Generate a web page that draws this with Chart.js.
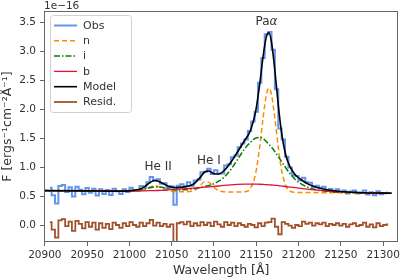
<!DOCTYPE html>
<html>
<head>
<meta charset="utf-8">
<script src="https://cdn.jsdelivr.net/npm/chart.js@4.4.1/dist/chart.umd.min.js"></script>
<style>
  html, body { margin: 0; padding: 0; background: #fff; }
</style>
</head>
<body>
<canvas id="chart" width="403" height="280"></canvas>
<script>
// fit components, sampled on a non-uniform wavelength grid (flux in 1e-16)
const lamFit = [20900, 20950, 20990, 21005, 21015, 21022, 21030, 21038, 21046, 21055, 21065, 21075, 21083, 21089, 21094, 21100, 21106, 21112, 21120, 21128, 21136, 21143, 21149, 21154, 21158, 21162, 21165, 21168, 21172, 21176, 21180, 21185, 21190, 21196, 21203, 21212, 21222, 21235, 21250, 21270, 21290, 21310];
const narrowFit = [0.595, 0.590, 0.585, 0.585, 0.599, 0.643, 0.681, 0.641, 0.593, 0.578, 0.577, 0.589, 0.669, 0.747, 0.738, 0.652, 0.590, 0.574, 0.571, 0.570, 0.574, 0.631, 0.873, 1.346, 1.849, 2.257, 2.366, 2.257, 1.847, 1.344, 0.944, 0.677, 0.586, 0.564, 0.562, 0.561, 0.560, 0.558, 0.557, 0.554, 0.552, 0.550];
const interFit = [0.595, 0.590, 0.586, 0.593, 0.613, 0.637, 0.658, 0.652, 0.627, 0.607, 0.609, 0.626, 0.645, 0.664, 0.684, 0.713, 0.762, 0.827, 0.961, 1.135, 1.314, 1.429, 1.500, 1.515, 1.497, 1.440, 1.398, 1.348, 1.270, 1.184, 1.095, 0.987, 0.888, 0.786, 0.712, 0.646, 0.605, 0.578, 0.565, 0.557, 0.553, 0.550];
const broadFit = [0.595, 0.590, 0.586, 0.589, 0.590, 0.593, 0.596, 0.600, 0.609, 0.618, 0.627, 0.638, 0.647, 0.654, 0.661, 0.668, 0.675, 0.685, 0.695, 0.702, 0.707, 0.708, 0.708, 0.705, 0.702, 0.698, 0.695, 0.692, 0.686, 0.681, 0.674, 0.666, 0.656, 0.645, 0.633, 0.618, 0.603, 0.586, 0.572, 0.560, 0.554, 0.551];
const modelFit = [0.595, 0.590, 0.586, 0.599, 0.638, 0.709, 0.773, 0.732, 0.671, 0.647, 0.659, 0.701, 0.811, 0.917, 0.935, 0.887, 0.883, 0.942, 1.085, 1.267, 1.457, 1.632, 1.945, 2.430, 2.910, 3.263, 3.327, 3.165, 2.673, 2.079, 1.585, 1.202, 1.004, 0.871, 0.783, 0.703, 0.648, 0.606, 0.580, 0.563, 0.554, 0.550];

// observed spectrum and residuals
const lamObs = [20906, 20910, 20914, 20918, 20922, 20926, 20930, 20934, 20938, 20942, 20946, 20950, 20954, 20958, 20962, 20966, 20970, 20974, 20978, 20982, 20986, 20990, 20994, 20998, 21002, 21006, 21010, 21014, 21018, 21022, 21026, 21030, 21034, 21038, 21042, 21046, 21050, 21054, 21058, 21062, 21066, 21070, 21074, 21078, 21082, 21086, 21090, 21094, 21098, 21102, 21106, 21110, 21114, 21118, 21122, 21126, 21130, 21134, 21138, 21142, 21146, 21150, 21154, 21158, 21162, 21166, 21170, 21174, 21178, 21182, 21186, 21190, 21194, 21198, 21202, 21206, 21210, 21214, 21218, 21222, 21226, 21230, 21234, 21238, 21242, 21246, 21250, 21254, 21258, 21262, 21266, 21270, 21274, 21278, 21282, 21286, 21290, 21294, 21298, 21302, 21306];
const obsFlux = [0.644, 0.514, 0.373, 0.673, 0.692, 0.572, 0.652, 0.491, 0.661, 0.610, 0.530, 0.640, 0.560, 0.629, 0.509, 0.618, 0.538, 0.607, 0.517, 0.627, 0.586, 0.536, 0.619, 0.573, 0.646, 0.603, 0.588, 0.674, 0.648, 0.739, 0.831, 0.763, 0.792, 0.712, 0.721, 0.641, 0.670, 0.349, 0.681, 0.705, 0.673, 0.740, 0.677, 0.772, 0.787, 0.914, 0.921, 0.975, 0.883, 0.946, 0.893, 0.892, 1.028, 1.049, 1.171, 1.202, 1.345, 1.410, 1.477, 1.627, 1.790, 1.960, 2.460, 2.890, 3.300, 3.340, 3.030, 2.350, 1.670, 1.480, 1.180, 0.994, 0.865, 0.846, 0.775, 0.816, 0.741, 0.732, 0.660, 0.678, 0.645, 0.662, 0.589, 0.621, 0.594, 0.617, 0.570, 0.597, 0.543, 0.580, 0.596, 0.543, 0.561, 0.599, 0.527, 0.566, 0.514, 0.583, 0.532, 0.551, 0.560];
const residFlux = [0.05, -0.08, -0.22, 0.08, 0.10, -0.02, 0.06, -0.10, 0.07, 0.02, -0.06, 0.05, -0.03, 0.04, -0.08, 0.03, -0.05, 0.02, -0.07, 0.04, 0.00, -0.05, 0.03, -0.02, 0.05, 0.00, -0.03, 0.04, -0.02, 0.03, 0.09, -0.01, 0.04, -0.02, 0.02, -0.03, 0.01, -0.30, 0.03, 0.05, 0.01, 0.06, -0.02, 0.03, -0.01, 0.05, 0.00, 0.04, -0.02, 0.06, 0.01, -0.03, 0.05, 0.00, 0.04, -0.02, 0.03, 0.00, -0.03, 0.02, 0.00, -0.04, 0.03, -0.02, 0.04, 0.05, 0.11, -0.03, -0.16, 0.05, 0.02, -0.01, -0.05, 0.00, -0.02, 0.06, 0.02, 0.04, -0.01, 0.03, 0.01, 0.04, -0.02, 0.02, 0.00, 0.03, -0.01, 0.02, -0.03, 0.01, 0.03, -0.02, 0.00, 0.04, -0.03, 0.01, -0.04, 0.03, -0.02, 0.00, 0.01];

const xTicks = [20900, 20950, 21000, 21050, 21100, 21150, 21200, 21250, 21300];
const yTicks = [0.0, 0.5, 1.0, 1.5, 2.0, 2.5, 3.0, 3.5];

const FONT = 'DejaVu Sans';
const TEXT = '#333';
const AXIS = '#666';

function pts(xs, ys) {
    return xs.map((v, k) => ({ x: v, y: ys[k] }));
}

const series = [
    { label: 'Obs', data: pts(lamObs, obsFlux), borderColor: '#6495ED', borderWidth: 2, stepped: 'middle', order: 6 },
    { label: 'n', data: pts(lamFit, narrowFit), borderColor: '#FF8C00', borderWidth: 1.5, borderDash: [5, 3], cubicInterpolationMode: 'monotone', order: 5 },
    { label: 'i', data: pts(lamFit, interFit), borderColor: '#008000', borderWidth: 1.5, borderDash: [6, 2, 1.5, 2], cubicInterpolationMode: 'monotone', order: 4 },
    { label: 'b', data: pts(lamFit, broadFit), borderColor: '#DC143C', borderWidth: 1.3, cubicInterpolationMode: 'monotone', order: 3 },
    { label: 'Model', data: pts(lamFit, modelFit), borderColor: '#000000', borderWidth: 1.6, cubicInterpolationMode: 'monotone', order: 2 },
    { label: 'Resid.', data: pts(lamObs, residFlux), borderColor: '#A0522D', borderWidth: 1.8, stepped: 'middle', order: 1 }
];

// frame, legend box, line labels and the offset text
const extras = {
    id: 'extras',
    afterDatasetsDraw(chart) {
        const { ctx, chartArea: a, scales: { x, y } } = chart;
        ctx.save();

        ctx.strokeStyle = AXIS;
        ctx.lineWidth = 1;
        const l = Math.round(a.left) + 0.5, t = Math.round(a.top) + 0.5;
        const r = Math.round(a.right) - 0.5, b = Math.round(a.bottom) - 0.5;
        ctx.strokeRect(l, t, r - l, b - t);

        // legend
        ctx.beginPath();
        ctx.roundRect(50.5, 15.5, 81, 97, 3);
        ctx.fillStyle = 'rgba(255,255,255,0.85)';
        ctx.fill();
        ctx.strokeStyle = '#d0d0d0';
        ctx.stroke();
        ctx.font = '11px "' + FONT + '"';
        ctx.textBaseline = 'middle';
        ctx.textAlign = 'left';
        series.forEach((s, k) => {
            const yy = 25.5 + k * 15.3;
            ctx.beginPath();
            ctx.setLineDash(s.borderDash || []);
            ctx.strokeStyle = s.borderColor;
            ctx.lineWidth = s.borderWidth;
            ctx.moveTo(54, yy);
            ctx.lineTo(77, yy);
            ctx.stroke();
            ctx.setLineDash([]);
            ctx.fillStyle = TEXT;
            ctx.fillText(s.label, 83, yy + 0.5);
        });

        // line labels
        ctx.font = '12px "' + FONT + '"';
        ctx.textBaseline = 'alphabetic';
        ctx.textAlign = 'center';
        ctx.fillStyle = TEXT;
        ctx.fillText('He II', x.getPixelForValue(21034), y.getPixelForValue(0.95));
        ctx.fillText('He I', x.getPixelForValue(21094), y.getPixelForValue(1.055));

        const pa = 'Pa', al = 'α';
        ctx.textAlign = 'left';
        const w1 = ctx.measureText(pa).width;
        ctx.font = 'italic 12px "' + FONT + '"';
        const w2 = ctx.measureText(al).width;
        const x0 = x.getPixelForValue(21162) - (w1 + w2) / 2;
        const y0 = y.getPixelForValue(3.46);
        ctx.font = '12px "' + FONT + '"';
        ctx.fillText(pa, x0, y0);
        ctx.font = 'italic 12px "' + FONT + '"';
        ctx.fillText(al, x0 + w1, y0);

        // offset text of the y axis
        ctx.font = '10.5px "' + FONT + '"';
        ctx.fillText('1e\u221216', a.left, 8.5);
        ctx.restore();
    }
};

const ctx = document.getElementById('chart').getContext('2d');
new Chart(ctx, {
    type: 'line',
    data: {
        datasets: series.map(s => ({
            label: s.label,
            data: s.data,
            borderColor: s.borderColor,
            borderWidth: s.borderWidth,
            borderDash: s.borderDash || [],
            stepped: s.stepped || false,
            cubicInterpolationMode: s.cubicInterpolationMode || 'default',
            fill: false,
            pointRadius: 0,
            order: s.order
        }))
    },
    options: {
        responsive: false,
        animation: false,
        devicePixelRatio: 1,
        layout: { padding: { left: 0, right: 4, top: 11, bottom: 0 } },
        plugins: {
            legend: { display: false },
            tooltip: { enabled: false }
        },
        scales: {
            x: {
                type: 'linear',
                min: 20899,
                max: 21318,
                afterBuildTicks: s => { s.ticks = xTicks.map(v => ({ value: v })); },
                afterFit: s => { s.height = 38; },
                grid: { drawOnChartArea: false, tickLength: 4, color: AXIS },
                border: { display: false },
                ticks: {
                    autoSkip: false, maxRotation: 0, padding: 3, color: TEXT,
                    font: { family: FONT, size: 10.5 },
                    callback: v => String(v)
                },
                title: {
                    display: true, text: 'Wavelength [Å]', color: TEXT,
                    font: { family: FONT, size: 12.5 },
                    padding: { top: 0, bottom: 2 }
                }
            },
            y: {
                type: 'linear',
                min: -0.294,
                max: 3.702,
                afterBuildTicks: s => { s.ticks = yTicks.map(v => ({ value: v })); },
                afterFit: s => { s.width = 44; },
                grid: { drawOnChartArea: false, tickLength: 4, color: AXIS },
                border: { display: false },
                ticks: {
                    autoSkip: false, padding: 4, color: TEXT,
                    font: { family: FONT, size: 10.5 },
                    callback: v => v.toFixed(1)
                },
                title: {
                    display: true, text: 'F [ergs⁻¹cm⁻²Å⁻¹]', color: TEXT,
                    font: { family: FONT, size: 12.5 },
                    padding: { top: 0, bottom: 0 }
                }
            }
        }
    },
    plugins: [extras]
});
</script>
</body>
</html>
